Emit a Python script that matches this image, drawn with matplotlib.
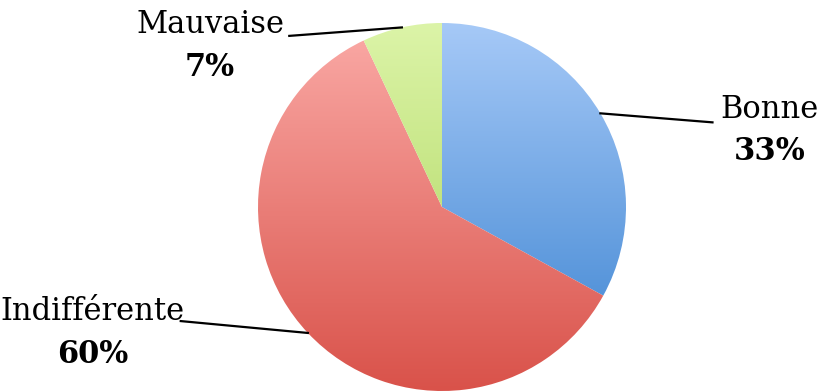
import numpy as np
import matplotlib.pyplot as plt
from matplotlib.colors import LinearSegmentedColormap

labels = ['Bonne', 'Indifférente', 'Mauvaise']
values = [33, 60, 7]
top_colors = ['#a6c9f7', '#f9a6a2', '#dcf4a8']
bottom_colors = ['#5594da', '#d9524a', '#c2e37f']

# label placement (data coords, pie radius = 1)
label_pos = [(1.78, 0.53), (-1.90, -0.57), (-1.26, 0.99)]
line_start = [(1.47, 0.46), (-1.42, -0.62), (-0.83, 0.93)]

plt.rcParams['font.family'] = 'DejaVu Serif'

fig = plt.figure(figsize=(8.24, 3.92), dpi=100)
R = 184
cx, cy = 442, 392 - 207
ax = fig.add_axes([(cx - R) / 824, (cy - R) / 392, 2 * R / 824, 2 * R / 392])

wedges, _ = ax.pie(values, startangle=90, counterclock=False,
                   wedgeprops=dict(linewidth=0, edgecolor='none', alpha=0))

for w, c1, c2 in zip(wedges, top_colors, bottom_colors):
    ext = w.get_path().get_extents()
    cmap = LinearSegmentedColormap.from_list('g', [c2, c1])
    grad = np.linspace(0, 1, 256).reshape(-1, 1)
    im = ax.imshow(grad, cmap=cmap, origin='lower', aspect='auto',
                   extent=[ext.x0, ext.x1, ext.y0, ext.y1], zorder=1)
    patch = plt.Polygon(w.get_path().vertices, closed=True, transform=ax.transData,
                        facecolor='none', edgecolor='none')
    im.set_clip_path(w.get_path(), ax.transData)

ax.set_xlim(-1, 1)
ax.set_ylim(-1, 1)
ax.set_aspect('equal')
ax.axis('off')

for (lx, ly), (sx, sy), w, lab, v in zip(label_pos, line_start, wedges, labels, values):
    ang = np.deg2rad((w.theta1 + w.theta2) / 2)
    ex, ey = np.cos(ang), np.sin(ang)
    ax.plot([sx, ex], [sy, ey], color='black', lw=1.6, clip_on=False, zorder=3)
    ax.text(lx, ly, lab, ha='center', va='center', fontsize=22, clip_on=False)
    ax.text(lx, ly - 0.23, f'{v}%', ha='center', va='center', fontsize=22,
            fontweight='bold', clip_on=False)

fig.savefig('out.png', dpi=100)
